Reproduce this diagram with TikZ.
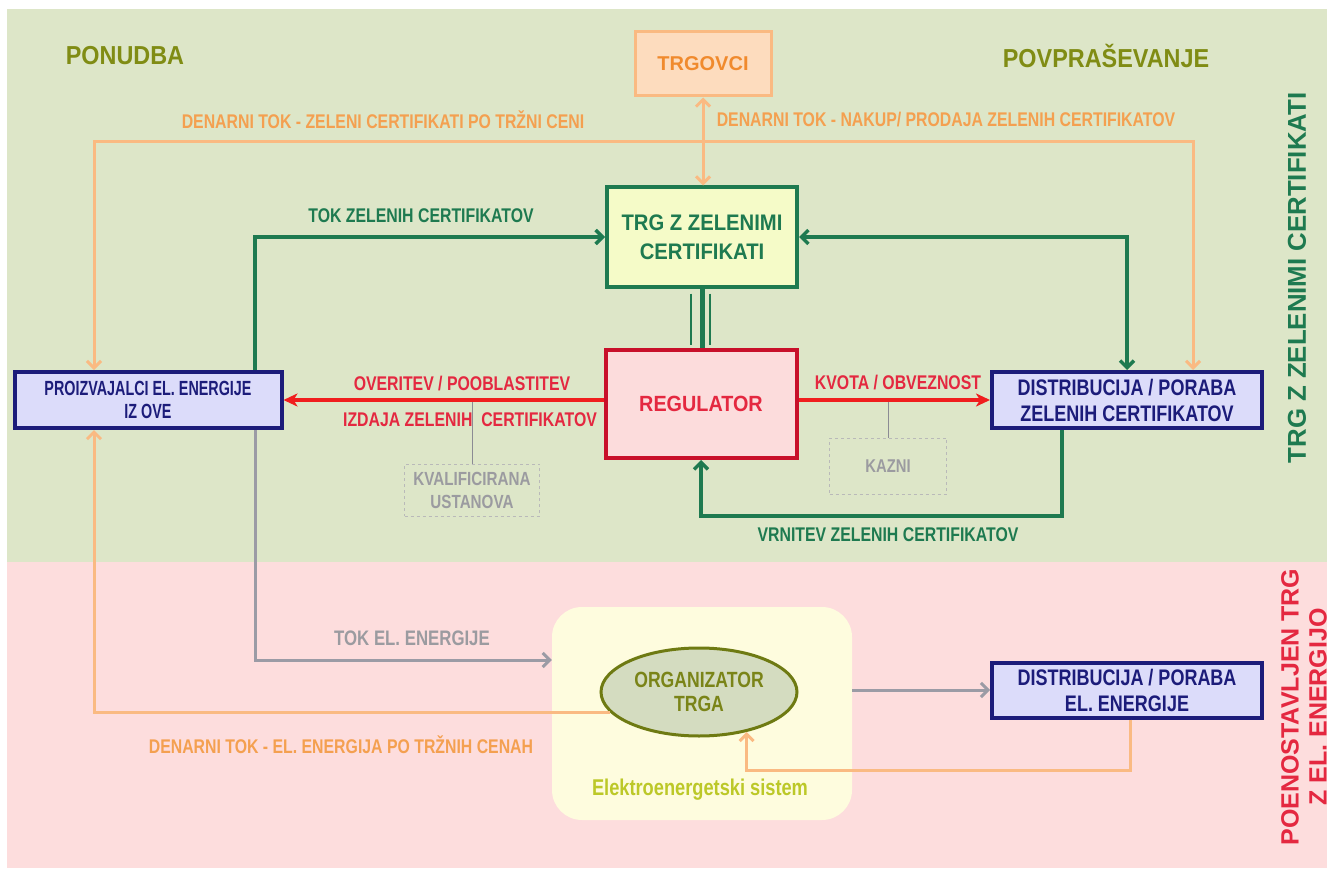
\documentclass[tikz,border=0pt]{standalone}
\usepackage{fontspec}
\setmainfont{Liberation Sans}
\newfontfamily\nar[FakeStretch=0.8]{Liberation Sans}
\newfontfamily\narr[FakeStretch=0.7]{Liberation Sans}
\newfontfamily\semi[FakeStretch=0.9]{Liberation Sans}
\usetikzlibrary{arrows.meta,shapes.geometric,calc}
\definecolor{bggreen}{RGB}{221,230,200}
\definecolor{bgpink}{RGB}{253,221,221}
\definecolor{olive}{RGB}{128,140,20}
\definecolor{oline}{RGB}{250,186,130}
\definecolor{otext}{RGB}{244,160,80}
\definecolor{trgtext}{RGB}{240,138,45}
\definecolor{trgfill}{RGB}{253,220,190}
\definecolor{dgreen}{RGB}{30,122,80}
\definecolor{yfill}{RGB}{245,251,200}
\definecolor{navy}{RGB}{28,28,122}
\definecolor{lav}{RGB}{220,220,250}
\definecolor{rline}{RGB}{240,30,30}
\definecolor{rtext}{RGB}{228,40,64}
\definecolor{rborder}{RGB}{200,16,42}
\definecolor{rfill}{RGB}{252,220,220}
\definecolor{gline}{RGB}{155,155,165}
\definecolor{gtext}{RGB}{155,155,160}
\definecolor{dashgray}{RGB}{185,185,185}
\definecolor{efill}{RGB}{254,252,222}
\definecolor{etext}{RGB}{188,200,40}
\definecolor{ellfill}{RGB}{212,220,192}
\definecolor{ellborder}{RGB}{110,122,18}
\definecolor{elltext}{RGB}{122,132,24}
\begin{document}
\begin{tikzpicture}[x=1pt,y=-1pt,
  box/.style={draw, line width=4pt, inner sep=0pt, align=center},
  bluebox/.style={box, draw=navy, fill=lav, text=navy, minimum width=267pt, minimum height=56pt,
     font=\narr\bfseries\fontsize{20.5}{23}\selectfont},
  distbox/.style={bluebox, minimum width=270pt, font=\nar\bfseries\fontsize{22.5}{26}\selectfont},
  dashbox/.style={draw=dashgray, dashed, line width=1pt, inner sep=0pt, align=center, text=gtext,
     font=\nar\bfseries\fontsize{19}{23}\selectfont},
  lab/.style={inner sep=0pt, font=\nar\bfseries\fontsize{19.8}{22}\selectfont},
  barb/.tip={Straight Barb[length=7pt,width=14pt]},
  oarrow/.style={draw=oline, line width=3pt, arrows={barb-barb}},
  garrow/.style={draw=dgreen, line width=3.5pt, arrows={barb-barb}},
  grarrow/.style={draw=gline, line width=3pt, arrows={-barb}},
  rarrow/.style={draw=rline, line width=3.5pt, arrows={-Stealth[length=14pt,width=13pt,inset=4pt]}},
  thinl/.style={draw=gline!90!black, line width=1pt}
]
\useasboundingbox (0,0) rectangle (1336,869);
\fill[white] (0,0) rectangle (1336,869);
\fill[bggreen] (7,9) rectangle (1327,562);
\fill[bgpink] (7,562) rectangle (1327,868);

% titles
\node[inner sep=0pt, text=olive, font=\semi\bfseries\fontsize{26}{28}\selectfont] (ponudba) at (125,56) {PONUDBA};
\node[inner sep=0pt, text=olive, font=\semi\bfseries\fontsize{26}{28}\selectfont] (povpr) at (1106,56) {POVPRAŠEVANJE};

% nodes
\node[box, line width=3pt, draw=oline, fill=trgfill, text=trgtext, minimum width=136pt, minimum height=64pt,
  font=\bfseries\fontsize{20}{24}\selectfont] (trgovci) at (703,64) {TRGOVCI};
\node[box, draw=dgreen, fill=yfill, text=dgreen, minimum width=190pt, minimum height=99pt,
  font=\semi\bfseries\fontsize{22.5}{29}\selectfont] (trg) at (702,237) {TRG Z ZELENIMI\\CERTIFIKATI};
\node[box, draw=rborder, fill=rfill, text=rtext, minimum width=191pt, minimum height=108pt,
  font=\semi\bfseries\fontsize{22}{26}\selectfont] (regulator) at (701,404) {REGULATOR};
\node[bluebox] (proiz) at (148,400) {PROIZVAJALCI EL. ENERGIJE\\IZ OVE};
\node[distbox] (dist1) at (1127,400) {DISTRIBUCIJA / PORABA\\ZELENIH CERTIFIKATOV};
\node[distbox, minimum height=55pt] (dist2) at (1127,690) {DISTRIBUCIJA / PORABA\\EL. ENERGIJE};
\node[dashbox, minimum width=135pt, minimum height=52pt] (kval) at (472,490) {KVALIFICIRANA\\USTANOVA};
\node[dashbox, minimum width=117pt, minimum height=56pt, font=\nar\bfseries\fontsize{18.5}{22}\selectfont] (kazni) at (888,466) {KAZNI};

\node[draw=none, fill=efill, rounded corners=30pt, minimum width=300pt, minimum height=213pt, inner sep=0pt] (elektro) at (702,713.5) {};
\node[inner sep=0pt, text=etext, font=\nar\bfseries\fontsize{22.8}{25}\selectfont] (elabel) at (700,790) {Elektroenergetski sistem};
\node[ellipse, draw=ellborder, line width=3pt, fill=ellfill, text=elltext, minimum width=196pt, minimum height=88pt,
  inner sep=0pt, align=center, font=\nar\bfseries\fontsize{22}{24}\selectfont] (org) at (699,692) {ORGANIZATOR\\TRGA};

% side labels
\node[rotate=90, inner sep=0pt, text=dgreen, font=\bfseries\fontsize{25.8}{28}\selectfont] (side1) at (1297,278) {TRG Z ZELENIMI CERTIFIKATI};
\node[rotate=90, inner sep=0pt, align=center, text=rtext, font=\bfseries\fontsize{25}{28}\selectfont] (side2) at (1304,707) {POENOSTAVLJEN TRG\\Z EL. ENERGIJO};

% coordinates
\coordinate (ol) at (94,142);
\coordinate (or) at (1193,142);
\coordinate (gl) at (255,237);
\coordinate (ry) at (0,400);
\coordinate (gb) at (1062,516);
\coordinate (ob) at (94,712);
\coordinate (gy) at (255,660);
\coordinate (ob2) at (1130,770);

% orange money flows (top)
\draw[oarrow] (proiz.north -| ol) -- (ol) -- (or) -- (dist1.north -| or);
\draw[oarrow] (trgovci.south) -- (trgovci.south |- trg.north);

% green certificate flows
\draw[garrow, arrows={-barb}] (proiz.north -| gl) |- (trg.west);
\draw[garrow] (trg.east) -| (dist1.north);
\draw[dgreen, line width=5pt] (trg.south) -- (trg.south |- regulator.north);
\draw[dgreen, line width=1.2pt] ([xshift=-11pt,yshift=-5pt]trg.south) -- ([xshift=-11pt,yshift=3pt]trg.south |- regulator.north);
\draw[dgreen, line width=1.2pt] ([xshift=8pt,yshift=-5pt]trg.south) -- ([xshift=8pt,yshift=3pt]trg.south |- regulator.north);
\draw[garrow, arrows={-barb}] (dist1.south -| gb) -- (gb) -- (regulator.south |- gb) -- (regulator.south);

% red arrows
\draw[thinl] (kval.north |- ry) -- (kval.north);
\draw[thinl] (kazni.north |- ry) -- (kazni.north);
\draw[rarrow] (regulator.west |- ry) -- (proiz.east |- ry);
\draw[rarrow] (regulator.east |- ry) -- (dist1.west |- ry);

% bottom flows
\draw[grarrow] (proiz.south -| gy) |- (elektro.west |- gy);
\draw[oarrow, arrows={-barb}] (org.193) -| (proiz.south -| ob);
\draw[grarrow] (elektro.east |- dist2.west) -- (dist2.west);
\draw[oarrow, arrows={-barb}] (dist2.south -| ob2) -- (ob2) -- (org.320 |- ob2) -- (org.320);

% labels
\node[lab, text=otext] (l1) at (383,120) {DENARNI TOK - ZELENI CERTIFIKATI PO TRŽNI CENI};
\node[lab, text=otext] (l2) at (946,120) {DENARNI TOK - NAKUP/ PRODAJA ZELENIH CERTIFIKATOV};
\node[lab, text=dgreen] (l3) at (421,216) {TOK ZELENIH CERTIFIKATOV};
\node[lab, text=rtext] (l4) at (462,384) {OVERITEV / POOBLASTITEV};
\node[lab, text=rtext] (l5) at (470,420) {IZDAJA ZELENIH\ \ CERTIFIKATOV};
\node[lab, text=rtext] (l6) at (898,383) {KVOTA / OBVEZNOST};
\node[lab, text=dgreen] (l7) at (888,535) {VRNITEV ZELENIH CERTIFIKATOV};
\node[lab, text=gtext, font=\nar\bfseries\fontsize{21}{24}\selectfont] (l8) at (412,638) {TOK EL. ENERGIJE};
\node[lab, text=otext] (l9) at (341,745) {DENARNI TOK - EL. ENERGIJA PO TRŽNIH CENAH};
\end{tikzpicture}
\end{document}
